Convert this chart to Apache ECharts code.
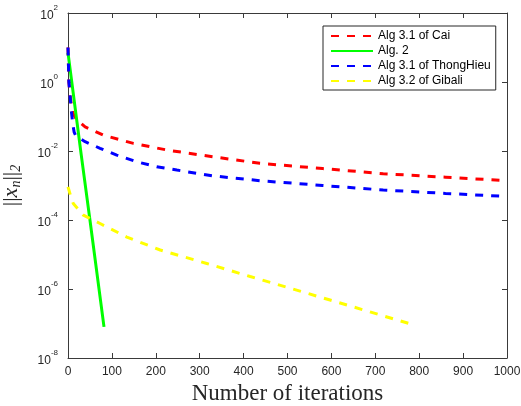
<!DOCTYPE html>
<html>
<head>
<meta charset="utf-8">
<script src="https://cdn.jsdelivr.net/npm/echarts@6/dist/echarts.min.js"></script>
<style>
html,body{margin:0;padding:0;background:#fff;}
#chart{width:521px;height:406px;}
</style>
</head>
<body>
<div id="chart"></div>
<script>
// ---- data ----
const seriesNames = ['Alg 3.1 of Cai', 'Alg. 2', 'Alg 3.1 of ThongHieu', 'Alg 3.2 of Gibali'];

const caiIter = [0, 2, 5, 8, 12, 20, 39, 80, 149, 225, 330, 437, 580, 718, 860, 1000];
const caiVal  = [10, 1.0, 0.4, 0.2, 0.12, 0.08, 0.05, 0.029, 0.0166, 0.0107, 0.0068, 0.0044, 0.0031, 0.0022, 0.00174, 0.00138];

const alg2Iter = [0, 30, 50, 82];
const alg2Val  = [7, 0.008, 1e-4, 8e-8];

const thongIter = [0, 2, 5, 8, 11, 14, 18, 39, 73, 111, 156, 202, 248, 330, 437, 580, 718, 860, 1000];
const thongVal  = [10, 1.0, 0.35, 0.13, 0.06, 0.035, 0.027, 0.0186, 0.012, 0.0076, 0.0049, 0.0035, 0.0028, 0.0019, 0.00138, 0.001, 0.00074, 0.00059, 0.00048];

const gibaliIter = [0, 6, 12, 35, 73, 134, 210, 316, 415, 597, 779];
const gibaliVal  = [9.1e-4, 5e-4, 3e-4, 1.38e-4, 7.9e-5, 3.2e-5, 1.35e-5, 5.5e-6, 2.3e-6, 4.8e-7, 9.8e-8];

function pairs(xs, ys) { return xs.map((x, i) => [x, ys[i]]); }

const chart = echarts.init(document.getElementById('chart'), null, {renderer: 'canvas'});
const axisColor = '#3a3a3a';
const labelFont = 'Liberation Sans';

const dash = [8, 8];

const option = {
  animation: false,
  backgroundColor: '#ffffff',
  grid: {left: 68, right: 14, top: 13, bottom: 48, containLabel: false, outerBoundsMode: 'none'},
  legend: {
    orient: 'vertical',
    left: 323,
    top: 26,
    padding: [4, 5, 3, 7],
    itemGap: 3,
    itemWidth: 42,
    itemHeight: 12,
    backgroundColor: '#ffffff',
    borderColor: '#262626',
    borderWidth: 1,
    borderRadius: 0,
    itemStyle: {opacity: 0},
    textStyle: {fontFamily: labelFont, fontSize: 12, color: '#000'},
    data: seriesNames
  },
  xAxis: [
    {
      type: 'value', min: 0, max: 1000, interval: 100, position: 'bottom',
      name: 'Number of iterations', nameLocation: 'middle', nameGap: 22,
      nameTextStyle: {fontFamily: 'Liberation Serif', fontSize: 23, color: '#262626'},
      axisLine: {show: true, onZero: false, lineStyle: {color: axisColor, width: 1}},
      axisTick: {show: true, inside: true, length: 5, lineStyle: {color: axisColor}},
      axisLabel: {fontFamily: labelFont, fontSize: 12, color: '#262626', margin: 8,
        formatter: function (v) { return String(v); }},
      splitLine: {show: false}
    },
    {
      type: 'value', min: 0, max: 1000, interval: 100, position: 'top',
      axisLine: {show: true, onZero: false, lineStyle: {color: axisColor, width: 1}},
      axisTick: {show: true, inside: true, length: 5, lineStyle: {color: axisColor}},
      axisLabel: {show: false}, splitLine: {show: false}
    }
  ],
  yAxis: [
    {
      type: 'log', logBase: 10, min: 1e-8, max: 1e2, interval: 2, position: 'left',
      name: '||{i|x}{s|n}||{s|2}', nameLocation: 'middle', nameGap: 45, nameRotate: 90,
      nameTextStyle: {fontFamily: 'Liberation Serif', fontSize: 22, color: '#262626', lineHeight: 24,
        rich: {
          i: {fontFamily: 'Liberation Serif', fontStyle: 'italic', fontSize: 22, color: '#262626', lineHeight: 24},
          s: {fontFamily: 'Liberation Serif', fontStyle: 'italic', fontSize: 14, color: '#262626', lineHeight: 12, verticalAlign: 'bottom'}
        }},
      axisLine: {show: true, onZero: false, lineStyle: {color: axisColor, width: 1}},
      axisTick: {show: true, inside: true, length: 5, lineStyle: {color: axisColor}},
      axisLabel: {
        margin: 10, color: '#262626',
        formatter: function (v) {
          const e = Math.round(Math.log10(v));
          return '{b|10}{e|' + e + '}';
        },
        rich: {
          b: {fontFamily: labelFont, fontSize: 12, color: '#262626', lineHeight: 18, verticalAlign: 'bottom'},
          e: {fontFamily: labelFont, fontSize: 8, color: '#262626', lineHeight: 9, verticalAlign: 'top'}
        }
      },
      splitLine: {show: false},
      minorTick: {show: false}
    },
    {
      type: 'log', logBase: 10, min: 1e-8, max: 1e2, interval: 2, position: 'right',
      axisLine: {show: true, onZero: false, lineStyle: {color: axisColor, width: 1}},
      axisTick: {show: true, inside: true, length: 5, lineStyle: {color: axisColor}},
      axisLabel: {show: false}, splitLine: {show: false}
    }
  ],
  series: [
    {
      name: seriesNames[0], type: 'line', data: pairs(caiIter, caiVal),
      symbol: 'none', showSymbol: false,
      color: '#ff0000', lineStyle: {color: '#ff0000', width: 3, type: dash}
    },
    {
      name: seriesNames[1], type: 'line', data: pairs(alg2Iter, alg2Val),
      symbol: 'none', showSymbol: false,
      color: '#00ff00', lineStyle: {color: '#00ff00', width: 3, type: 'solid'}
    },
    {
      name: seriesNames[2], type: 'line', data: pairs(thongIter, thongVal),
      symbol: 'none', showSymbol: false,
      color: '#0000ff', lineStyle: {color: '#0000ff', width: 3, type: dash}
    },
    {
      name: seriesNames[3], type: 'line', data: pairs(gibaliIter, gibaliVal),
      symbol: 'none', showSymbol: false,
      color: '#ffff00', lineStyle: {color: '#ffff00', width: 3, type: dash}
    }
  ]
};
chart.setOption(option);
</script>
</body>
</html>
